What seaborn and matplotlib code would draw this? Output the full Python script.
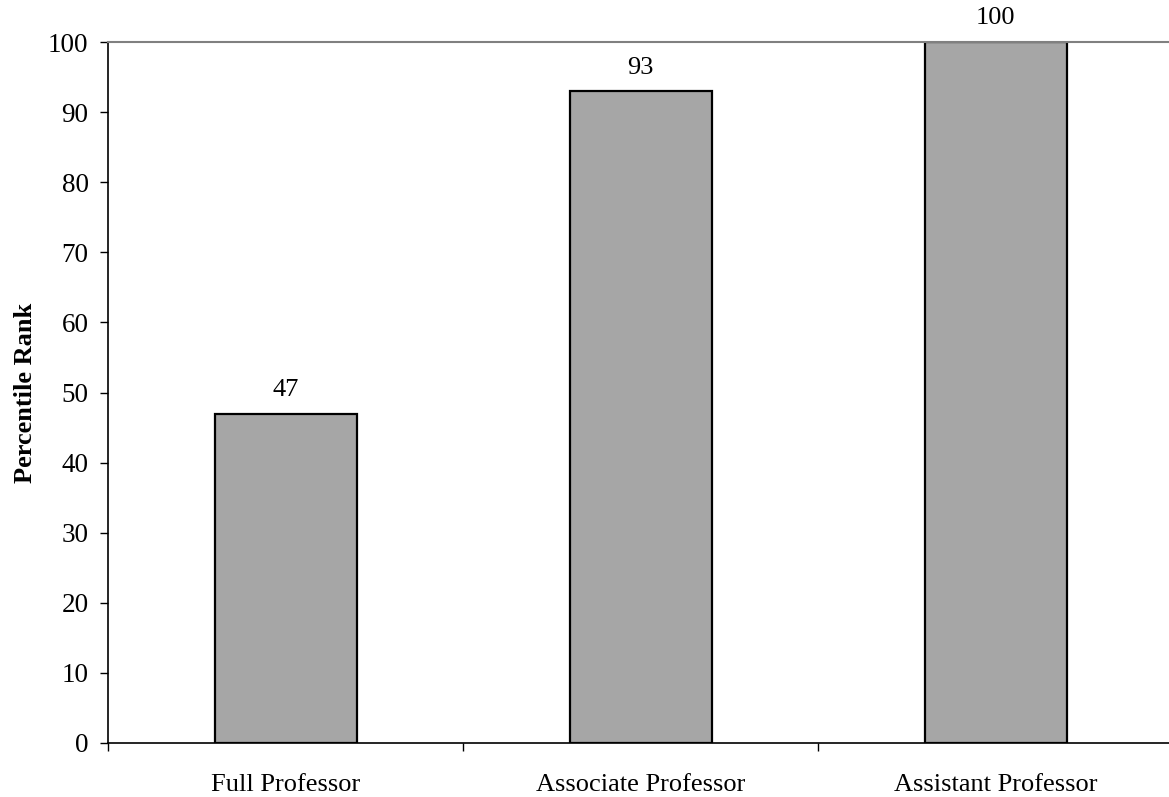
import numpy as np
import pandas as pd
import seaborn as sns
import matplotlib.pyplot as plt

# 資料
ranks = ['Full Professor', 'Associate Professor', 'Assistant Professor']
percentile = [47, 93, 100]
yticks = list(range(0, 101, 10))

df = pd.DataFrame({'rank': ranks, 'percentile': percentile})

sns.set_style('white')
plt.rcParams['font.family'] = ['Liberation Serif', 'DejaVu Serif']
plt.rcParams['text.color'] = 'black'
plt.rcParams['xtick.color'] = 'black'
plt.rcParams['ytick.color'] = 'black'
plt.rcParams['axes.labelcolor'] = 'black'

fig = plt.figure(figsize=(11.69, 7.97), dpi=100)
ax = fig.add_axes([108 / 1169, 1 - 743 / 797, 1065 / 1169, 701 / 797])

sns.barplot(data=df, x='rank', y='percentile', color='#a6a6a6', width=0.4,
            edgecolor='black', linewidth=1.6, saturation=1, ax=ax)

for i, v in enumerate(percentile):
    ax.annotate(str(v), (i, v), xytext=(0, 9), textcoords='offset points',
                ha='center', va='bottom', fontsize=19)

ax.set_xlim(-0.5, 2.5)
ax.set_ylim(0, 100)
ax.set_yticks(yticks)
ax.set_xticks(range(len(ranks)))
ax.set_xticklabels(ranks)
ax.set_xticks(np.arange(-0.5, 2.6, 1), minor=True)
ax.tick_params(axis='x', which='major', bottom=False, length=0, pad=22, labelsize=19)
ax.tick_params(axis='x', which='minor', bottom=True, length=6, width=1, direction='out')
ax.tick_params(axis='y', left=True, length=6, width=1, direction='out', labelsize=19.5, pad=8)
ax.set_xlabel('')
ax.set_ylabel('Percentile Rank', fontsize=19, fontweight='bold', labelpad=8)

for s in ['left', 'bottom']:
    ax.spines[s].set_color('black')
    ax.spines[s].set_linewidth(1.2)
ax.spines['top'].set_color('#808080')
ax.spines['top'].set_linewidth(1.5)
ax.spines['right'].set_visible(False)

fig.savefig('out.png', dpi=100)
